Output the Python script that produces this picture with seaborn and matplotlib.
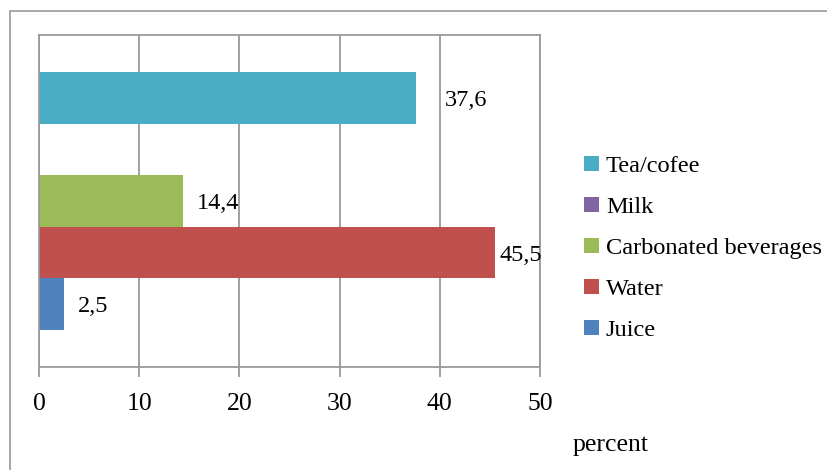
import numpy as np
import pandas as pd
import seaborn as sns
import matplotlib
matplotlib.use("Agg")
import matplotlib.pyplot as plt
from matplotlib.patches import Patch, Rectangle

# Share of respondents by main beverage (percent)
beverages = ["Tea/cofee", "Milk", "Carbonated beverages", "Water", "Juice"]
values = [37.6, np.nan, 14.4, 45.5, 2.5]
colors = ["#4BACC6", "#8064A2", "#9BBB59", "#C0504D", "#4F81BD"]
value_labels = ["37,6", "", "14,4", "45,5", "2,5"]
label_offsets = [21, 0, 10, 3.5, 10]  # points to the right of each bar end
x_ticks = [0, 10, 20, 30, 40, 50]
x_title = "percent"

df = pd.DataFrame({"group": ["all"] * len(beverages),
                   "beverage": beverages,
                   "value": values})

sns.set_theme(style="white")
plt.rcParams["font.family"] = ["Liberation Serif", "DejaVu Serif"]
plt.rcParams["text.color"] = "black"

fig = plt.figure(figsize=(8.28, 4.70), dpi=100)
ax = fig.add_axes([39 / 828, 103 / 470, 501 / 828, 332 / 470])

palette = dict(zip(beverages, colors))
sns.barplot(data=df, x="value", y="group", hue="beverage",
            hue_order=beverages, palette=palette, orient="h",
            width=0.775, saturation=1, errorbar=None, legend=False,
            linewidth=0, ax=ax)

ax.set_xlim(0, 50)
ax.set_xticks(x_ticks)
ax.set_xticklabels([str(t) for t in x_ticks], fontsize=18.5, color="black")
ax.set_yticks([])
ax.set_xlabel("")
ax.set_ylabel("")

grid_c = "#9a9a9a"
ax.xaxis.grid(True, color=grid_c, linewidth=1.3)
ax.set_axisbelow(True)
for s in ax.spines.values():
    s.set_visible(True)
    s.set_color(grid_c)
    s.set_linewidth(1.3)
ax.tick_params(axis="x", direction="out", length=7, width=1.3,
               color=grid_c, pad=12, bottom=True)

# value labels next to the bar ends
for cont, txt, off in zip(ax.containers, value_labels, label_offsets):
    for bar in cont:
        w = bar.get_width()
        if txt and np.isfinite(w):
            ax.annotate(txt, xy=(w, bar.get_y() + bar.get_height() / 2),
                        xytext=(off, -2), textcoords="offset points",
                        ha="left", va="center", fontsize=17.5, color="black")

handles = [Patch(facecolor=c, edgecolor="none") for c in colors]
fig.legend(handles, beverages, loc="center left",
           bbox_to_anchor=(584 / 828, 221.5 / 470), frameon=False,
           fontsize=17.6, handlelength=0.6, handleheight=0.6,
           handletextpad=0.3, labelspacing=0.8, borderpad=0,
           borderaxespad=0, labelcolor="black")

fig.text(611 / 828, 25 / 470, x_title, ha="center", va="center",
         fontsize=18.5, color="black")

fig.patches.append(Rectangle((10 / 828, -0.2), 2.0, 0.2 + 459 / 470,
                             transform=fig.transFigure, fill=False,
                             edgecolor="#a0a0a0", linewidth=1.3))

fig.savefig("out.png", dpi=100, facecolor="white")
